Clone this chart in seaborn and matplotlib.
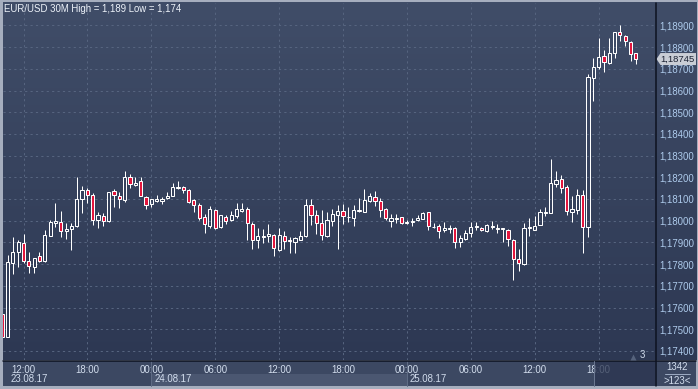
import numpy as np
import pandas as pd
import matplotlib
matplotlib.use("Agg")
import matplotlib.pyplot as plt
import matplotlib.transforms as mtransforms
from matplotlib.patches import Rectangle, Polygon
from matplotlib.ticker import FixedLocator, FuncFormatter
import seaborn as sns

# ---------------- data ----------------
start_time = "2017-08-23 10:00"
bar_freq = "30min"

open_ = [1.17570, 1.17465, 1.17806, 1.17854, 1.17896, 1.17813, 1.17788, 1.17836, 1.17816, 1.17931,
         1.17991, 1.17994, 1.17951, 1.17963, 1.17977, 1.18099, 1.18140, 1.18118, 1.18002, 1.18022,
         1.17997, 1.18135, 1.18115, 1.18095, 1.18200, 1.18163, 1.18182, 1.18111, 1.18077, 1.18092,
         1.18092, 1.18103, 1.18114, 1.18151, 1.18154, 1.18141, 1.18095, 1.18071, 1.18016, 1.17977,
         1.18049, 1.17970, 1.18018, 1.18002, 1.18023, 1.18046, 1.18053, 1.17983, 1.17910, 1.17926,
         1.17928, 1.17935, 1.17865, 1.17931, 1.17911, 1.17903, 1.17911, 1.17930, 1.18071, 1.18025,
         1.17988, 1.17930, 1.18000, 1.18025, 1.18043, 1.18016, 1.18011, 1.18043, 1.18041, 1.18091,
         1.18108, 1.18092, 1.18053, 1.18000, 1.18009, 1.18016, 1.17988, 1.17994, 1.18002, 1.18009,
         1.18039, 1.17970, 1.17976, 1.17956, 1.17962, 1.17968, 1.17900, 1.17914, 1.17942, 1.17971,
         1.17968, 1.17954, 1.17972, 1.17963, 1.17962, 1.17957, 1.17911, 1.17824, 1.17802, 1.17966,
         1.17957, 1.17979, 1.18035, 1.18037, 1.18168, 1.18191, 1.18154, 1.18041, 1.18049, 1.18118,
         1.17972, 1.18656, 1.18710, 1.18760, 1.18725, 1.18771, 1.18868, 1.18851, 1.18822, 1.18773]
high = [1.17579, 1.17842, 1.17924, 1.17911, 1.17937, 1.17854, 1.17828, 1.17856, 1.17957, 1.18003,
        1.18080, 1.18045, 1.17988, 1.17988, 1.18200, 1.18160, 1.18152, 1.18126, 1.18039, 1.18034,
        1.18132, 1.18145, 1.18131, 1.18229, 1.18215, 1.18200, 1.18200, 1.18115, 1.18102, 1.18118,
        1.18111, 1.18134, 1.18175, 1.18183, 1.18160, 1.18144, 1.18100, 1.18080, 1.18031, 1.18066,
        1.18053, 1.18026, 1.18026, 1.18045, 1.18080, 1.18080, 1.18065, 1.17995, 1.17968, 1.17960,
        1.17985, 1.17939, 1.17965, 1.17954, 1.17925, 1.17926, 1.17953, 1.18100, 1.18100, 1.18049,
        1.18049, 1.18041, 1.18053, 1.18072, 1.18077, 1.18065, 1.18072, 1.18106, 1.18146, 1.18126,
        1.18137, 1.18103, 1.18060, 1.18029, 1.18029, 1.18018, 1.18002, 1.18011, 1.18026, 1.18041,
        1.18041, 1.17988, 1.17985, 1.17993, 1.17980, 1.17971, 1.17934, 1.17957, 1.17995, 1.17995,
        1.17971, 1.17985, 1.17999, 1.17985, 1.17966, 1.17963, 1.17916, 1.17870, 1.17988, 1.18014,
        1.18022, 1.18053, 1.18062, 1.18283, 1.18230, 1.18211, 1.18165, 1.18114, 1.18146, 1.18141,
        1.18675, 1.18748, 1.18841, 1.18787, 1.18841, 1.18870, 1.18902, 1.18856, 1.18828, 1.18775]
low = [1.17462, 1.17462, 1.17753, 1.17788, 1.17804, 1.17758, 1.17760, 1.17810, 1.17810, 1.17930,
       1.17972, 1.17924, 1.17917, 1.17865, 1.17972, 1.18034, 1.18080, 1.17980, 1.17968, 1.17977,
       1.17996, 1.18065, 1.18057, 1.18088, 1.18152, 1.18162, 1.18112, 1.18053, 1.18065, 1.18085,
       1.18076, 1.18102, 1.18112, 1.18146, 1.18126, 1.18083, 1.18041, 1.18003, 1.17942, 1.17965,
       1.17963, 1.17968, 1.17983, 1.17999, 1.18011, 1.18039, 1.17911, 1.17870, 1.17873, 1.17896,
       1.17903, 1.17837, 1.17862, 1.17868, 1.17850, 1.17853, 1.17909, 1.17926, 1.17980, 1.17939,
       1.17911, 1.17926, 1.17977, 1.17870, 1.17983, 1.17995, 1.17977, 1.18039, 1.18040, 1.18088,
       1.18069, 1.18018, 1.18003, 1.17972, 1.17991, 1.17983, 1.17983, 1.17977, 1.17999, 1.18006,
       1.17957, 1.17968, 1.17922, 1.17949, 1.17942, 1.17873, 1.17877, 1.17911, 1.17924, 1.17957,
       1.17953, 1.17949, 1.17960, 1.17942, 1.17903, 1.17885, 1.17727, 1.17770, 1.17796, 1.17930,
       1.17955, 1.17978, 1.18022, 1.18035, 1.18157, 1.18129, 1.18026, 1.17992, 1.18029, 1.17850,
       1.17926, 1.18552, 1.18699, 1.18684, 1.18721, 1.18751, 1.18830, 1.18806, 1.18737, 1.18722]
close = [1.17465, 1.17811, 1.17854, 1.17902, 1.17816, 1.17793, 1.17827, 1.17813, 1.17933, 1.17993,
         1.17999, 1.17951, 1.17960, 1.17974, 1.18099, 1.18140, 1.18117, 1.18002, 1.18026, 1.17997,
         1.18131, 1.18117, 1.18099, 1.18200, 1.18169, 1.18174, 1.18112, 1.18071, 1.18100, 1.18100,
         1.18100, 1.18112, 1.18154, 1.18154, 1.18140, 1.18088, 1.18071, 1.18011, 1.17983, 1.18053,
         1.17968, 1.18025, 1.17999, 1.18026, 1.18054, 1.18053, 1.17988, 1.17910, 1.17928, 1.17930,
         1.17937, 1.17873, 1.17933, 1.17908, 1.17908, 1.17920, 1.17928, 1.18072, 1.18025, 1.17988,
         1.17933, 1.18003, 1.18031, 1.18045, 1.18022, 1.18018, 1.18048, 1.18049, 1.18094, 1.18114,
         1.18089, 1.18049, 1.18011, 1.18011, 1.18014, 1.17988, 1.17993, 1.17997, 1.18011, 1.18037,
         1.17976, 1.17972, 1.17953, 1.17968, 1.17965, 1.17900, 1.17919, 1.17942, 1.17970, 1.17976,
         1.17957, 1.17979, 1.17976, 1.17966, 1.17965, 1.17914, 1.17822, 1.17804, 1.17965, 1.17971,
         1.17977, 1.18040, 1.18040, 1.18172, 1.18186, 1.18149, 1.18043, 1.18052, 1.18118, 1.17972,
         1.18664, 1.18707, 1.18753, 1.18730, 1.18771, 1.18868, 1.18856, 1.18828, 1.18768, 1.18745]

price_ticks = [1.174, 1.175, 1.176, 1.177, 1.178, 1.179, 1.180, 1.181,
               1.182, 1.183, 1.184, 1.185, 1.186, 1.187, 1.188, 1.189]
title = "EUR/USD 30M High = 1,189 Low = 1,174"
last_price_label = "1,18745"
bars_label = "1342"
scale_label = ">123<"
shift_label = "3"

# ---------------- style ----------------
sns.set_theme(style="dark")
plt.rcParams["font.family"] = ["Liberation Sans", "DejaVu Sans"]

BORDER = "#a6aebe"
BG_TOP = "#404d68"
BG_BOT = "#2d3853"
PANEL = "#3c4862"
PANEL_LIGHT = "#4b5771"
GRID = "#56647f"
RED = "#e3163d"
YLAB = "#aecbec"
XLAB = "#d3deee"
FS = 6.9
W, H = 698, 389
px = 0.72  # one pixel in points at dpi 100

df = pd.DataFrame({"time": pd.date_range(start_time, periods=len(open_), freq=bar_freq),
                   "open": open_, "high": high, "low": low, "close": close})
df["i"] = np.arange(len(df))
df["top"] = df[["open", "close"]].max(axis=1)
df["bot"] = df[["open", "close"]].min(axis=1)
df["down"] = df["close"] < df["open"]

fig = plt.figure(figsize=(W / 100, H / 100), dpi=100, facecolor=BORDER)

# background axes in pixel coordinates
bg = fig.add_axes([0, 0, 1, 1], zorder=0)
grad = np.linspace(0, 1, 256)[:, None, None]
c1 = np.array(matplotlib.colors.to_rgb(BG_TOP))
c2 = np.array(matplotlib.colors.to_rgb(BG_BOT))
img = c1 * (1 - grad) + c2 * grad
bg.imshow(img, extent=(2.5, 696, 360.5, 2.5), aspect="auto", interpolation="bilinear")
bg.add_patch(Rectangle((2.5, 360.5), 693.5, 25.5, color=PANEL, lw=0))
bg.set_xlim(0, W)
bg.set_ylim(H, 0)
bg.axis("off")

# main axes
x_left, x_right = 3.0, 655.5
y_top, y_bot = 3.0, 360.0
ax = fig.add_axes([x_left / W, 1 - y_bot / H, (x_right - x_left) / W, (y_bot - y_top) / H], zorder=1)
ax.set_facecolor("none")
for s in ax.spines.values():
    s.set_visible(False)

slot = 5.325
i0, x0 = 4, 23.5
ax.set_xlim(i0 - (x0 - x_left) / slot, i0 + (x_right - x0) / slot)
p0, y0, ppx = 1.182, 177.3, 21.7
ax.set_ylim(p0 - (y_bot - y0) / ppx / 1000, p0 + (y0 - y_top) / ppx / 1000)

# wicks
ax.vlines(df["i"], df["top"], df["high"], color="white", lw=px, zorder=3)
ax.vlines(df["i"], df["low"], df["bot"], color="white", lw=px, zorder=3)
# bodies
face = np.where(df["down"], RED, "none")
ax.bar(df["i"], (df["top"] - df["bot"]).clip(lower=1e-7), bottom=df["bot"], width=0.6,
       color=face, edgecolor="white", linewidth=px, zorder=4)

# ticks
six_hour = df[(df["time"].dt.minute == 0) & (df["time"].dt.hour % 6 == 0)]
ax.xaxis.set_major_locator(FixedLocator(six_hour["i"].tolist()))
ax.set_xticklabels(six_hour["time"].dt.strftime("%H:%M").tolist())
ax.yaxis.tick_right()
ax.yaxis.set_major_locator(FixedLocator(price_ticks))
ax.yaxis.set_major_formatter(FuncFormatter(lambda v, p: f"{v:.5f}".replace(".", ",")))
ax.tick_params(axis="y", length=0, pad=2.6, labelsize=FS, labelcolor=YLAB)
ax.tick_params(axis="x", length=0, pad=3.4, labelsize=FS, labelcolor=XLAB)
ax.grid(True, color=GRID, linestyle=(0, (2.2, 3.2)), linewidth=px)

# day boxes / labels on bottom panel
days = df[(df["time"].dt.hour == 0) & (df["time"].dt.minute == 0)]
blend = mtransforms.blended_transform_factory(ax.transData, bg.transData)
day_edges = days["i"].tolist()
if len(day_edges) >= 2:
    ax.add_patch(Rectangle((day_edges[0], 373.5), day_edges[1] - day_edges[0], 12.5,
                           transform=blend, color=PANEL_LIGHT, lw=0, clip_on=False, zorder=0.5))
for e in day_edges:
    ax.plot([e, e], [361, 386], transform=blend, color="#5f6c85", lw=px, clip_on=False, zorder=0.6)
ax.annotate(df["time"].iloc[0].strftime("%d.%m.%y"), xy=(0, 0), xycoords="axes fraction",
            xytext=(8, -19.5), textcoords="offset pixels", ha="left", va="center",
            fontsize=FS, color=XLAB)
for _, r in days.iterrows():
    ax.annotate(r["time"].strftime("%d.%m.%y"), xy=(r["i"], 0), xycoords=("data", "axes fraction"),
                xytext=(3, -19.5), textcoords="offset pixels", ha="left", va="center",
                fontsize=FS, color=XLAB)

# title
ax.annotate(title, xy=(0, 1), xycoords="axes fraction", xytext=(1, -0.5), textcoords="offset pixels",
            ha="left", va="top", fontsize=FS, color="#eef3fa")

# overlay for decorations
ov = fig.add_axes([0, 0, 1, 1], zorder=5)
ov.set_xlim(0, W)
ov.set_ylim(H, 0)
ov.axis("off")
ov.set_facecolor("none")
# separators
ov.plot([2.5, 696], [360.5, 360.5], color="#0d1220", lw=1.1)
ov.plot([655.8, 655.8], [2.5, 386], color="#0d1220", lw=1.1)
# scroll thumb
ov.add_patch(Rectangle((593.5, 361.2), 61.5, 24.8, color="#2b3550", alpha=0.75, lw=0))
ov.plot([593.5, 593.5], [361.2, 386], color="#6b7790", lw=px)
# bottom-right box
ov.text(677.5, 367.5, bars_label, ha="center", va="center", fontsize=FS, color=XLAB)
ov.plot([665, 690], [374.3, 374.3], color="#9aa8c0", lw=px)
ov.text(677, 380.5, scale_label, ha="center", va="center", fontsize=FS, color=XLAB)
# shift marker
ov.plot([633], [356.5], marker="^", ms=4.5, color="#56637c", mec="none")
ov.text(642, 354.5, shift_label, ha="center", va="center", fontsize=FS, color=XLAB)
# last price box
last = df["close"].iloc[-1]
y_last = ov.transData.inverted().transform(ax.transData.transform((0, last)))[1]
ov.add_patch(Polygon([[656.5, y_last], [660.5, y_last - 6], [696, y_last - 6], [696, y_last + 6],
                      [660.5, y_last + 6]], closed=True, color="#c9cdd5", lw=0))
ov.text(660, y_last, last_price_label, ha="left", va="center", fontsize=6.8, color="#1b2233")

fig.savefig("out.png", dpi=100, facecolor=BORDER)
